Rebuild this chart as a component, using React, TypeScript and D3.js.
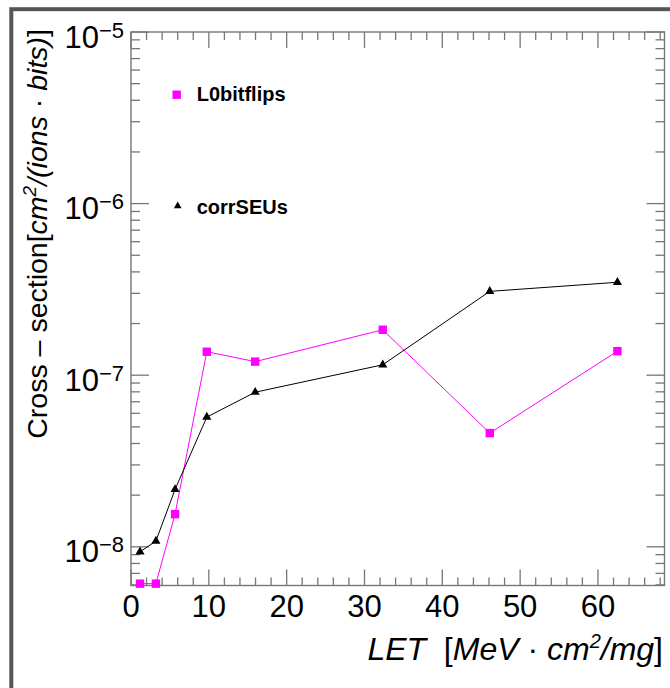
import React from "react";
import * as d3 from "d3";

// LET values of the ion beams [MeV·cm²/mg]
const letValues = [1.16, 3.2, 5.66, 9.74, 15.96, 32.35, 46.1, 62.5];
// Measured cross sections [cm²/(ions·bits)]
const l0BitflipsXS = [6.1e-9, 6.1e-9, 1.55e-8, 1.37e-7, 1.2e-7, 1.84e-7, 4.6e-8, 1.38e-7];
const corrSEUsXS = [9.35e-9, 1.08e-8, 2.16e-8, 5.7e-8, 7.96e-8, 1.15e-7, 3.08e-7, 3.48e-7];

const xMajorTicks = [0, 10, 20, 30, 40, 50, 60];
const yDecadeExponents = [-8, -7, -6, -5];
const seriesNames = ["L0bitflips", "corrSEUs"];

const W = 670;
const H = 688;
const M = { left: 131, right: 664.5, top: 32, bottom: 585.5 };
const FONT = "'Liberation Sans', Arial, Helvetica, sans-serif";
const AXIS_COLOR = "#777";
const MAGENTA = "#ff00ff";

export default function App() {
  const x = d3.scaleLinear().domain([0, 68.55]).range([M.left, M.right]);
  const y = d3.scaleLog().domain([5.95e-9, 1e-5]).range([M.bottom, M.top]);

  const xMinor = d3.range(0, 68.55, 2).filter((v) => v % 10 !== 0);
  const [yLo, yHi] = y.domain();
  const yMinor: number[] = [];
  for (let e = -9; e <= -6; e++) {
    for (let m = 2; m <= 9; m++) {
      const v = m * Math.pow(10, e);
      if (v > yLo && v < yHi) yMinor.push(v);
    }
  }

  const line = d3
    .line<number>()
    .x((_, i) => x(letValues[i]))
    .y((d) => y(d));

  const tri = d3.symbol(d3.symbolTriangle, 36)();
  const triLegend = d3.symbol(d3.symbolTriangle, 26)();

  const xMajLen = 16, xMinLen = 8, yMajLen = 18, yMinLen = 9;

  return (
    <div style={{ position: "absolute", left: 0, top: 0 }}>
      <svg width={W} height={H} style={{ display: "block", background: "#fff" }}>
        {/* canvas frame */}
        <rect x={11.3} y={9.2} width={720} height={720} fill="none" stroke="#555" strokeWidth={4} />

        {/* plot frame */}
        <rect
          x={M.left}
          y={M.top}
          width={M.right - M.left}
          height={M.bottom - M.top}
          fill="none"
          stroke={AXIS_COLOR}
          strokeWidth={1.4}
        />

        {/* x ticks, bottom and top; y ticks, left and right */}
        <g stroke={AXIS_COLOR} strokeWidth={1.3}>
          {xMajorTicks.map((t) => (
            <g key={"xm" + t}>
              <line x1={x(t)} x2={x(t)} y1={M.bottom} y2={M.bottom - xMajLen} />
              <line x1={x(t)} x2={x(t)} y1={M.top} y2={M.top + xMajLen} />
            </g>
          ))}
          {xMinor.map((t) => (
            <g key={"xn" + t}>
              <line x1={x(t)} x2={x(t)} y1={M.bottom} y2={M.bottom - xMinLen} />
              <line x1={x(t)} x2={x(t)} y1={M.top} y2={M.top + xMinLen} />
            </g>
          ))}
          {yDecadeExponents.map((e) => {
            const yy = y(Math.pow(10, e));
            return (
              <g key={"ym" + e}>
                <line x1={M.left} x2={M.left + yMajLen} y1={yy} y2={yy} />
                <line x1={M.right} x2={M.right - yMajLen} y1={yy} y2={yy} />
              </g>
            );
          })}
          {yMinor.map((v) => (
            <g key={"yn" + v}>
              <line x1={M.left} x2={M.left + yMinLen} y1={y(v)} y2={y(v)} />
              <line x1={M.right} x2={M.right - yMinLen} y1={y(v)} y2={y(v)} />
            </g>
          ))}
        </g>

        {/* x tick labels */}
        <g fontFamily={FONT} fontSize={31} fill="#000" textAnchor="middle">
          {xMajorTicks.map((t) => (
            <text key={"xl" + t} x={x(t)} y={617}>
              {t}
            </text>
          ))}
        </g>

        {/* y tick labels */}
        <g fontFamily={FONT} fill="#000" textAnchor="end">
          {yDecadeExponents.map((e) => (
            <text key={"yl" + e} x={124} y={y(Math.pow(10, e)) + 15.5} fontSize={31}>
              <tspan>10</tspan>
              <tspan fontSize={22} dy={-10}>
                {"\u2212" + Math.abs(e)}
              </tspan>
            </text>
          ))}
        </g>

        {/* axis titles */}
        <text x={663} y={660} fontFamily={FONT} fontSize={32} textAnchor="end" fill="#000">
          <tspan fontStyle="italic">LET</tspan>
          <tspan>{"\u00a0\u00a0["}</tspan>
          <tspan fontStyle="italic">MeV</tspan>
          <tspan>{" \u00b7 "}</tspan>
          <tspan fontStyle="italic">cm</tspan>
          <tspan fontStyle="italic" fontSize={20} dy={-12}>2</tspan>
          <tspan fontStyle="italic" dy={12}>/mg</tspan>
          <tspan>]</tspan>
        </text>

        <text
          transform="translate(47,29) rotate(-90)"
          fontFamily={FONT}
          fontSize={28.5}
          textAnchor="end"
          fill="#000"
        >
          <tspan>{"Cross \u2013 section["}</tspan>
          <tspan fontStyle="italic">cm</tspan>
          <tspan fontStyle="italic" fontSize={19} dy={-11}>2</tspan>
          <tspan fontStyle="italic" dy={11}>/(ions</tspan>
          <tspan>{" \u00b7 "}</tspan>
          <tspan fontStyle="italic">bits)</tspan>
          <tspan>]</tspan>
        </text>

        {/* series lines */}
        <path d={line(l0BitflipsXS) || ""} fill="none" stroke={MAGENTA} strokeWidth={1} />
        <path d={line(corrSEUsXS) || ""} fill="none" stroke="#000" strokeWidth={1} />

        {/* markers */}
        {l0BitflipsXS.map((v, i) => (
          <rect
            key={"sq" + i}
            x={x(letValues[i]) - 4.2}
            y={y(v) - 4.2}
            width={8.4}
            height={8.4}
            fill={MAGENTA}
          />
        ))}
        {corrSEUsXS.map((v, i) => (
          <path
            key={"tr" + i}
            d={tri || ""}
            transform={`translate(${x(letValues[i])},${y(v)})`}
            fill="#000"
          />
        ))}

        {/* legend */}
        <rect x={176.7 - 4.2} y={94.7 - 4.2} width={8.4} height={8.4} fill={MAGENTA} />
        <path d={triLegend || ""} transform="translate(177.7,206)" fill="#000" />
        <g fontFamily={FONT} fontSize={20} fontWeight="bold" fill="#000">
          <text x={196.7} y={101}>{seriesNames[0]}</text>
          <text x={196.7} y={214.3}>{seriesNames[1]}</text>
        </g>
      </svg>
    </div>
  );
}
